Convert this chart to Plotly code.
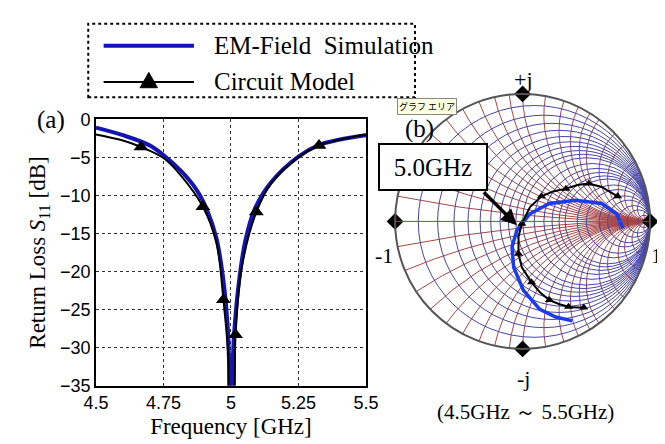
import numpy as np
import plotly.graph_objects as go

W, H = 665, 444

# ---------------- data: return loss (a) ----------------
em_freq = [4.5, 4.6, 4.697, 4.75, 4.815, 4.875, 4.91, 4.946, 4.97, 4.988, 4.999,
           5.011, 5.029, 5.053, 5.088, 5.148, 5.25, 5.325, 5.4, 5.5]
em_s11 = [-1.1, -2.1, -3.4, -4.7, -6.8, -9.4, -11.8, -15.6, -20.6, -27.3, -38,
          -28.5, -21.5, -16.0, -11.8, -8.3, -4.9, -3.4, -2.7, -2.1]

cm_freq = [4.5, 4.6, 4.667, 4.75, 4.815, 4.896, 4.946, 4.972, 4.99, 4.997,
           5.006, 5.017, 5.04, 5.094, 5.15, 5.25, 5.326, 5.4, 5.5]
cm_s11 = [-2.0, -2.8, -3.65, -5.1, -7.4, -11.5, -16.2, -23.7, -31, -38,
          -38, -28.3, -19.5, -12.2, -8.4, -5.0, -3.45, -2.7, -2.0]

cm_mark_freq = [4.667, 4.896, 4.972, 5.017, 5.094, 5.326]
cm_mark_s11 = [-3.65, -11.5, -23.7, -28.3, -12.2, -3.45]

x_tickvals = [4.5, 4.75, 5, 5.25, 5.5]
x_ticktext = ["4.5", "4.75", "5", "5.25", "5.5"]
y_tickvals = [-35, -30, -25, -20, -15, -10, -5, 0]

# ---------------- data: Smith chart (b), reflection coefficient ----------------
em_gr = [0.79, 0.737, 0.62, 0.417, 0.21, 0.058, -0.045, -0.083, -0.07, 0.006, 0.135, 0.26, 0.39]
em_gi = [-0.055, 0.06, 0.14, 0.165, 0.14, 0.06, -0.07, -0.2, -0.36, -0.54, -0.69, -0.75, -0.78]

cm_gr = [0.745, 0.62, 0.52, 0.43, 0.34, 0.24, 0.148, 0.058, -0.006, -0.032, -0.032,
         -0.006, 0.07, 0.14, 0.21, 0.29, 0.36, 0.42, 0.48]
cm_gi = [0.197, 0.27, 0.297, 0.285, 0.257, 0.235, 0.197, 0.113, -0.018, -0.12, -0.254,
         -0.36, -0.478, -0.56, -0.617, -0.65, -0.67, -0.675, -0.675]

cm_mark_gr = [0.745, 0.52, 0.34, 0.148, -0.006, -0.032, 0.07, 0.21, 0.36, 0.48]
cm_mark_gi = [0.197, 0.297, 0.257, 0.197, -0.018, -0.254, -0.478, -0.617, -0.67, -0.675]

ref_real = [0, 0, 0, 1e4]
ref_imag = [1, -1, 0, 0]

smith_r_grid = [0.1, 0.2, 0.3, 0.4, 0.5, 0.6, 0.7, 0.8, 0.9,
                1, 1.2, 1.4, 1.6, 1.8, 2, 2.5, 3, 4, 5, 7, 10, 20]
smith_x_grid = [0.1, 0.2, 0.3, 0.4, 0.5, 0.6, 0.7, 0.8, 0.9,
                1, 1.2, 1.4, 1.6, 1.8, 2, 2.5, 3, 4, 5, 7, 10, 20]


def gamma_to_z(gr, gi):
    g = np.array(gr) + 1j * np.array(gi)
    z = (1 + g) / (1 - g)
    return z.real, z.imag


def px(x):
    return x / W


def py(y):
    return 1 - y / H


SERIF = "Liberation Serif, Times New Roman, serif"
SANS = "Liberation Sans, Arial, sans-serif"

fig = go.Figure()

# (a) return loss
fig.add_trace(go.Scatter(x=em_freq, y=em_s11, mode="lines", line=dict(color="#1414b4", width=4),
                         line_shape="spline", name="EM-Field Simulation", showlegend=False))
fig.add_trace(go.Scatter(x=cm_freq, y=cm_s11, mode="lines", line=dict(color="black", width=2),
                         line_shape="spline", name="Circuit Model", showlegend=False))
fig.add_trace(go.Scatter(x=cm_mark_freq, y=cm_mark_s11, mode="markers",
                         marker=dict(symbol="triangle-up", size=13, color="black"), showlegend=False))

# (b) Smith chart
er, ei = gamma_to_z(em_gr, em_gi)
cr, ci = gamma_to_z(cm_gr, cm_gi)
mr, mi = gamma_to_z(cm_mark_gr, cm_mark_gi)
fig.add_trace(go.Scattersmith(real=er, imag=ei, mode="lines", line=dict(color="#1a3cf0", width=3.5),
                              showlegend=False))
fig.add_trace(go.Scattersmith(real=cr, imag=ci, mode="lines", line=dict(color="black", width=2),
                              showlegend=False))
fig.add_trace(go.Scattersmith(real=mr, imag=mi, mode="markers",
                              marker=dict(symbol="triangle-up", size=8, color="black"), showlegend=False))
fig.add_trace(go.Scattersmith(real=ref_real, imag=ref_imag, mode="markers",
                              marker=dict(symbol="diamond", size=13, color="black"), showlegend=False))

R = 133.5
cx, cy = 522, 213

imag_grid = [-v for v in smith_x_grid[::-1]] + smith_x_grid

fig.update_layout(
    width=W, height=H, margin=dict(l=0, r=0, t=0, b=0),
    paper_bgcolor="white", plot_bgcolor="white",
    xaxis=dict(domain=[px(78), px(359)], range=[4.5, 5.5], tickvals=x_tickvals, ticktext=x_ticktext,
               showgrid=True, gridcolor="#333", griddash="dot", gridwidth=1,
               showline=True, linecolor="black", linewidth=1.5, mirror=True, ticks="",
               zeroline=False, tickfont=dict(family=SANS, size=18, color="black"),
               title=dict(text="Frequency [GHz]", font=dict(family=SERIF, size=23, color="black"), standoff=6)),
    yaxis=dict(domain=[py(385), py(106)], range=[-35, 0], tickvals=y_tickvals,
               showgrid=True, gridcolor="#333", griddash="dot", gridwidth=1,
               showline=True, linecolor="black", linewidth=1.5, mirror=True, ticks="",
               zeroline=False, tickfont=dict(family=SANS, size=18, color="black"),
               title=dict(text="Return Loss <i>S</i><sub>11</sub> [dB]",
                          font=dict(family=SERIF, size=23, color="black"), standoff=8)),
    smith=dict(
        domain=dict(x=[px(cx - R), px(cx + R)], y=[py(cy + R), py(cy - R)]),
        bgcolor="white",
        realaxis=dict(tickvals=smith_r_grid, showticklabels=False, ticks="", gridcolor="#4646a8",
                      gridwidth=0.9, showline=True, linecolor="#a04040", linewidth=1),
        imaginaryaxis=dict(tickvals=imag_grid, showticklabels=False, ticks="", gridcolor="#a84646",
                           gridwidth=0.9, showline=True, linecolor="#555", linewidth=2),
    ),
)

shapes = []
# legend box
shapes.append(dict(type="rect", xref="paper", yref="paper", x0=px(70), x1=px(410), y0=py(83), y1=py(6),
                   line=dict(color="black", width=2, dash="dot"), fillcolor="white"))
shapes.append(dict(type="line", xref="paper", yref="paper", x0=px(86), x1=px(180), y0=py(29), y1=py(29),
                   line=dict(color="#1414b4", width=4)))
shapes.append(dict(type="line", xref="paper", yref="paper", x0=px(86), x1=px(180), y0=py(67), y1=py(67),
                   line=dict(color="black", width=2)))
shapes.append(dict(type="path", xref="paper", yref="paper",
                   path=f"M {px(124)} {py(73)} L {px(142)} {py(73)} L {px(133)} {py(57)} Z",
                   fillcolor="black", line=dict(color="black", width=1)))
fig.update_layout(shapes=shapes)

ann = []
ann.append(dict(x=px(199), y=py(29), xref="paper", yref="paper", xanchor="left", yanchor="middle",
                text="EM-Field  Simulation", showarrow=False, font=dict(family=SERIF, size=25, color="black")))
ann.append(dict(x=px(199), y=py(67), xref="paper", yref="paper", xanchor="left", yanchor="middle",
                text="Circuit Model", showarrow=False, font=dict(family=SERIF, size=25, color="black")))
ann.append(dict(x=px(31), y=py(107), xref="paper", yref="paper", xanchor="center", yanchor="middle",
                text="(a)", showarrow=False, font=dict(family=SERIF, size=25, color="black")))
ann.append(dict(x=px(415), y=py(116), xref="paper", yref="paper", xanchor="center", yanchor="middle",
                text="(b)", showarrow=False, font=dict(family=SERIF, size=25, color="black")))
ann.append(dict(x=px(422), y=py(93), xref="paper", yref="paper", xanchor="center", yanchor="middle",
                text="グラフ エリア", showarrow=False, bgcolor="#ffffe1", bordercolor="#888", borderwidth=1,
                borderpad=1, font=dict(family="Noto Sans CJK JP", size=9, color="black")))
ann.append(dict(x=px(523), y=py(64), xref="paper", yref="paper", xanchor="center", yanchor="middle",
                text="+j", showarrow=False, font=dict(family=SERIF, size=22, color="black")))
ann.append(dict(x=px(523), y=py(377), xref="paper", yref="paper", xanchor="center", yanchor="middle",
                text="-j", showarrow=False, font=dict(family=SERIF, size=22, color="black")))
ann.append(dict(x=px(378), y=py(249), xref="paper", yref="paper", xanchor="center", yanchor="middle",
                text="-1", showarrow=False, font=dict(family=SERIF, size=22, color="black")))
ann.append(dict(x=px(661), y=py(249), xref="paper", yref="paper", xanchor="center", yanchor="middle",
                text="1", showarrow=False, font=dict(family=SERIF, size=22, color="black")))
ann.append(dict(x=px(525), y=py(413), xref="paper", yref="paper", xanchor="center", yanchor="middle",
                text="(4.5GHz ～ 5.5GHz)", showarrow=False, font=dict(family=SERIF, size=21, color="black")))
ann.append(dict(x=px(429), y=py(156), xref="paper", yref="paper", xanchor="center", yanchor="middle",
                text="5.0GHz", showarrow=False, bgcolor="white", bordercolor="black", borderwidth=2,
                width=106, height=44, borderpad=0, font=dict(family=SERIF, size=25, color="black")))
ann.append(dict(x=px(516), y=py(217), xref="paper", yref="paper", text=" ", showarrow=True,
                ax=-36, ay=-36, arrowhead=2, arrowsize=0.9, arrowwidth=3.5, arrowcolor="black"))
fig.update_layout(annotations=ann)

fig.write_html("out.html")
